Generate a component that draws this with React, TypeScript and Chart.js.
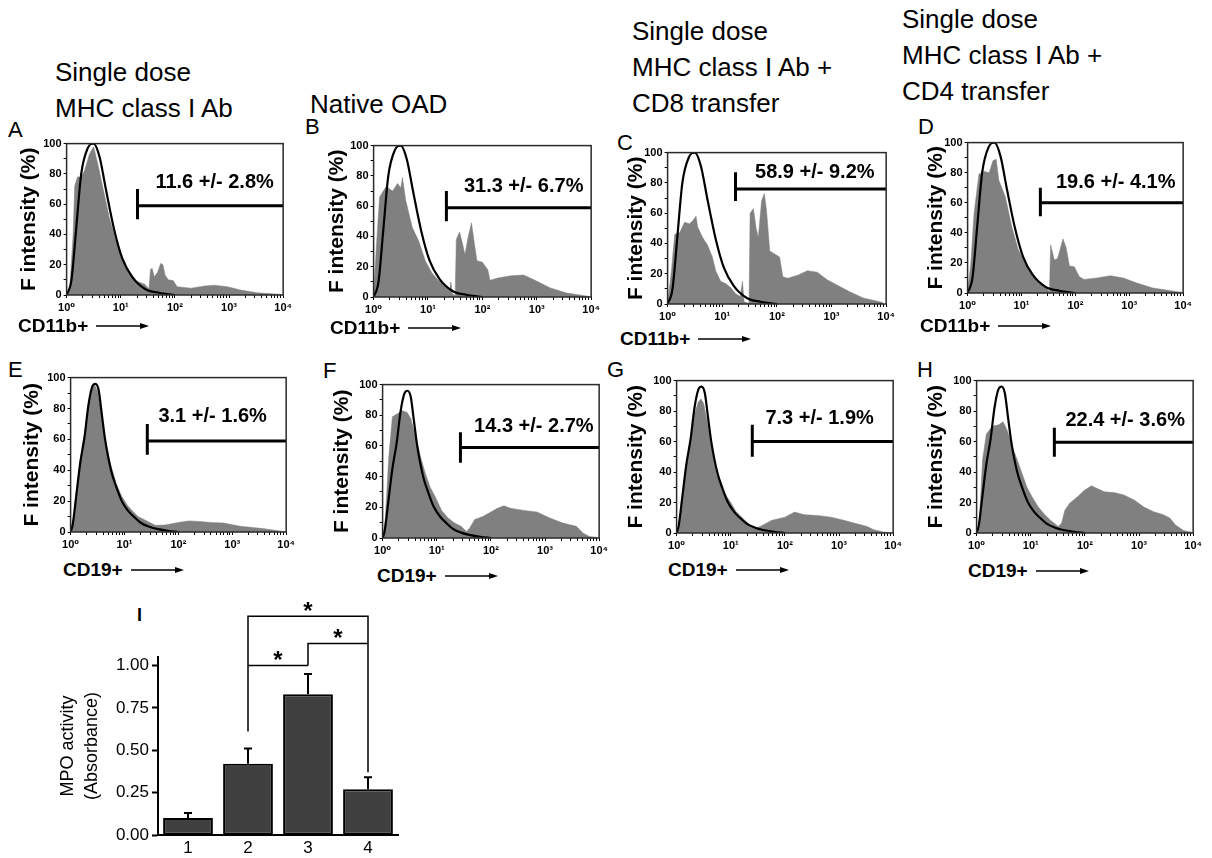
import React, { useEffect, useRef } from 'react';
import { Chart, registerables } from 'chart.js';

Chart.register(...registerables);

const FONT = '"Liberation Sans", Arial, "DejaVu Sans", sans-serif';

// ---------------- data ----------------
const panelLetters = ['A', 'B', 'C', 'D', 'E', 'F', 'G', 'H'];
const markerNames = ['CD11b+', 'CD11b+', 'CD11b+', 'CD11b+', 'CD19+', 'CD19+', 'CD19+', 'CD19+'];
const headerLines = [
  ['Single dose', 'MHC class I Ab'],
  ['Native OAD'],
  ['Single dose', 'MHC class I Ab +', 'CD8 transfer'],
  ['Single dose', 'MHC class I Ab +', 'CD4 transfer'],
];
const yAxisTitle = 'F intensity (%)';
const xDecades = [1, 10, 100, 1000, 10000];
const xDecadeLabels = ['10⁰', '10¹', '10²', '10³', '10⁴'];
const yTickValues = [0, 10, 20, 30, 40, 50, 60, 70, 80, 90, 100];
const yLabeledTicks = [0, 20, 40, 60, 80, 100];

// curves: [log10(fluorescence), % of max]
const controlTop = [[0, 0], [0.09, 10], [0.18, 45], [0.27, 80], [0.39, 97], [0.5, 100], [0.61, 91], [0.73, 69], [0.88, 43], [1.03, 24], [1.21, 12], [1.45, 4], [1.7, 1.5], [2, 0]];
const controlBottom = [[0, 0], [0.04, 5], [0.1, 22], [0.18, 45], [0.26, 62], [0.33, 82], [0.4, 94], [0.46, 96], [0.52, 92], [0.58, 76], [0.64, 60], [0.75, 40], [0.85, 29], [0.95, 20], [1.06, 14], [1.17, 10], [1.3, 6], [1.45, 3.5], [1.6, 2], [1.8, 0.8], [2, 0]];

const grayA = [[0, 0], [0.06, 5], [0.12, 40], [0.15, 72], [0.2, 78], [0.27, 78], [0.33, 82], [0.42, 93], [0.5, 98], [0.58, 86], [0.67, 71], [0.79, 51], [0.91, 36], [1.03, 25], [1.15, 16], [1.3, 9], [1.45, 7], [1.52, 4], [1.55, 17], [1.58, 17.5], [1.62, 12], [1.68, 15], [1.74, 21], [1.78, 20], [1.82, 13], [1.88, 10], [1.97, 9.5], [2.04, 5.5], [2.3, 4.5], [2.55, 6], [2.73, 6.5], [2.97, 5.5], [3.21, 3.3], [3.52, 1.5], [4, 0.3]];
const grayB = [[0, 0], [0.05, 33], [0.11, 66], [0.23, 73], [0.35, 70], [0.44, 75], [0.5, 72], [0.53, 79], [0.59, 64], [0.71, 46], [0.83, 37], [0.95, 24], [1.07, 16], [1.19, 11], [1.32, 7], [1.4, 5], [1.42, 10], [1.45, 2], [1.5, 1], [1.52, 38], [1.58, 43], [1.63, 36], [1.68, 28], [1.74, 40], [1.8, 49], [1.85, 36], [1.9, 24], [2.0, 23], [2.1, 18], [2.14, 11], [2.28, 12.5], [2.52, 14], [2.76, 14.5], [2.94, 11.5], [3.25, 6], [3.55, 2.6], [3.97, 0.4]];
const grayC = [[0, 0], [0.07, 22], [0.13, 46], [0.22, 47], [0.31, 54], [0.4, 53], [0.46, 55], [0.52, 58], [0.55, 51], [0.64, 44], [0.73, 39], [0.82, 31], [0.88, 22], [0.97, 15], [1.06, 13.5], [1.15, 11], [1.24, 7], [1.33, 5], [1.37, 15], [1.4, 1.5], [1.49, 0.5], [1.51, 60], [1.57, 63], [1.62, 50], [1.66, 44], [1.72, 68], [1.77, 73], [1.81, 62], [1.87, 35], [1.96, 33], [2.05, 31], [2.11, 18], [2.2, 17], [2.38, 19], [2.56, 22], [2.74, 21], [2.92, 16], [3.1, 12.5], [3.34, 8], [3.58, 4], [3.94, 1]];
const grayD = [[0, 0], [0.06, 20], [0.12, 53], [0.21, 79], [0.3, 81], [0.4, 80], [0.47, 88], [0.53, 89], [0.58, 75], [0.7, 64], [0.82, 44], [0.94, 29], [1.07, 20], [1.19, 13], [1.31, 8], [1.43, 4.4], [1.49, 2], [1.52, 1], [1.54, 32], [1.61, 22], [1.67, 23], [1.77, 36], [1.83, 30], [1.89, 18], [1.98, 17.5], [2.07, 11], [2.16, 9], [2.4, 10], [2.65, 11.5], [2.89, 10], [3.14, 6.6], [3.44, 3.3], [3.99, 0.4]];
const grayE = [[0, 0], [0.04, 6], [0.1, 24], [0.18, 47], [0.26, 64], [0.33, 83], [0.4, 93], [0.45, 95], [0.5, 91], [0.57, 77], [0.63, 62], [0.75, 43], [0.85, 31], [0.95, 23], [1.06, 17], [1.14, 14], [1.25, 10], [1.39, 7.6], [1.57, 4.3], [1.75, 4.5], [1.9, 5.5], [2.05, 6.5], [2.2, 7.2], [2.4, 6.8], [2.6, 6.2], [2.84, 5.8], [3.15, 3.7], [3.57, 2.2], [3.94, 0.4], [4, 0]];
const grayF = [[0, 0], [0.05, 12], [0.11, 51], [0.18, 79], [0.27, 81], [0.36, 83], [0.45, 82], [0.52, 78], [0.61, 66], [0.7, 53], [0.79, 42], [0.88, 33], [0.97, 27], [1.09, 18], [1.21, 13], [1.33, 9.7], [1.45, 7.6], [1.55, 4.3], [1.61, 6.5], [1.7, 12], [1.85, 14], [2.0, 17], [2.12, 19.4], [2.24, 21], [2.36, 19.4], [2.61, 18], [2.85, 17], [3.09, 13], [3.33, 9.7], [3.58, 7.6], [3.7, 3.2], [3.82, 1], [3.97, 0.4]];
const grayG = [[0, 0], [0.04, 5], [0.1, 22], [0.18, 45], [0.26, 62], [0.33, 78], [0.4, 86], [0.45, 88], [0.5, 85], [0.57, 72], [0.63, 58], [0.73, 40], [0.85, 28], [1.0, 20], [1.1, 14], [1.21, 10], [1.3, 7], [1.39, 4], [1.5, 3.5], [1.58, 5], [1.76, 8.3], [2.0, 10.4], [2.18, 13.7], [2.36, 12], [2.6, 11.5], [2.85, 10.4], [3.09, 8.3], [3.33, 6], [3.52, 4.3], [3.64, 2.2], [3.82, 0.7], [4, 0]];
const grayH = [[0, 0], [0.05, 6.5], [0.11, 48], [0.18, 65], [0.29, 70], [0.41, 71], [0.49, 73], [0.57, 67], [0.66, 56.5], [0.75, 48], [0.84, 39], [0.93, 30], [1.02, 24], [1.14, 17], [1.26, 12], [1.39, 7.6], [1.51, 4.3], [1.57, 6.5], [1.63, 15], [1.72, 19.6], [1.87, 24], [1.99, 28], [2.12, 31], [2.24, 29], [2.36, 27], [2.54, 26.5], [2.72, 25], [2.91, 21.7], [3.09, 17], [3.27, 14], [3.45, 12], [3.57, 9.8], [3.67, 5.4], [3.82, 1.7], [3.99, 0.4]];
const grayCurves = [grayA, grayB, grayC, grayD, grayE, grayF, grayG, grayH];

// gate markers
const gateStart = [20.4, 21.8, 17.5, 22.4, 26.5, 27.4, 25, 27.3];
const gateLevel = [59, 59, 76, 60, 59, 59, 60, 59.5];
const gateCapHigh = [70, 70, 87, 70, 70, 69, 71, 69];
const gateCapLow = [50, 50, 68, 51, 50, 49, 50, 50];
const gateLabels = ['11.6 +/- 2.8%', '31.3 +/- 6.7%', '58.9 +/- 9.2%', '19.6 +/- 4.1%', '3.1 +/- 1.6%', '14.3 +/- 2.7%', '7.3 +/- 1.9%', '22.4 +/- 3.6%'];
const gateLabelLog = [1.64, 1.66, 1.6, 1.64, 1.63, 1.69, 1.64, 1.64];
const gateLabelPct = [74, 73, 87, 73.5, 75, 73, 75, 74];

// MPO bar chart
const mpoCategories = ['1', '2', '3', '4'];
const mpoMeans = [0.1, 0.42, 0.83, 0.27];
const mpoErrors = [0.03, 0.09, 0.12, 0.07];
const mpoYTicks = [0, 0.25, 0.5, 0.75, 1.0];
const bracketFrom = [1, 1, 2];
const bracketTo = [3, 2, 3];
const bracketLevel = [1.29, 1.0, 1.13];
const bracketLeftEnd = [0.61, 1.0, 1.0];
const bracketRightEnd = [0.37, 1.0, 1.13];
const bracketMarks = ['*', '*', '*'];

// ---------------- layout ----------------
const panelBoxes = [
  { left: 67, top: 143, w: 220, h: 152, titleOff: 37 },
  { left: 374, top: 145, w: 221, h: 152, titleOff: 36 },
  { left: 668, top: 152, w: 222, h: 152, titleOff: 31 },
  { left: 968, top: 142, w: 219, h: 151, titleOff: 31 },
  { left: 71, top: 377, w: 219, h: 155, titleOff: 38 },
  { left: 383, top: 384, w: 220, h: 154, titleOff: 40 },
  { left: 677, top: 380, w: 220, h: 153, titleOff: 40 },
  { left: 977, top: 380, w: 220, h: 153, titleOff: 40 },
];
const letterPos = [
  { left: 8, top: 119 }, { left: 305, top: 116 }, { left: 617, top: 132 }, { left: 918, top: 116 },
  { left: 8, top: 359 }, { left: 323, top: 360 }, { left: 607, top: 359 }, { left: 917, top: 359 },
];
const xTitlePos = [
  { left: 18, top: 316 }, { left: 330, top: 318 }, { left: 620, top: 329 }, { left: 920, top: 316 },
  { left: 63, top: 560 }, { left: 377, top: 566 }, { left: 668, top: 560 }, { left: 968, top: 561 },
];
const headerPos = [{ left: 55, top: 54 }, { left: 310, top: 86 }, { left: 632, top: 13 }, { left: 902, top: 1 }];

const PADT = 8;
const PADR = 8;
const XH = 22;
const TITLE_FONT = 21;

function Histogram({ idx }: { idx: number }) {
  const ref = useRef<HTMLCanvasElement | null>(null);
  const box = panelBoxes[idx];
  const yW = box.titleOff + (TITLE_FONT * 1.2) / 2;
  const cw = Math.round(yW + box.w + PADR);
  const ch = PADT + box.h + XH;

  useEffect(() => {
    if (!ref.current) return;
    const toPts = (arr: number[][]) => arr.map(([lg, v]) => ({ x: Math.pow(10, lg), y: v }));
    const ctrl = idx < 4 ? controlTop : controlBottom;
    const gs = gateStart[idx];
    const xAll: number[] = [];
    for (let d = 0; d < xDecades.length - 1; d++) for (let m = 1; m <= 9; m++) xAll.push(xDecades[d] * m);
    xAll.push(xDecades[xDecades.length - 1]);

    const decorPlugin = {
      id: 'decor' + idx,
      afterDraw(chart: any) {
        const { ctx, chartArea } = chart;
        ctx.save();
        ctx.strokeStyle = '#2a2a2a';
        ctx.lineWidth = 1.5;
        ctx.strokeRect(chartArea.left, chartArea.top, chartArea.right - chartArea.left, chartArea.bottom - chartArea.top);
        const xs = chart.scales.x;
        const ys = chart.scales.y;
        ctx.fillStyle = '#000';
        ctx.font = `bold 20px ${FONT}`;
        ctx.textAlign = 'left';
        ctx.textBaseline = 'middle';
        ctx.fillText(gateLabels[idx], xs.getPixelForValue(Math.pow(10, gateLabelLog[idx])), ys.getPixelForValue(gateLabelPct[idx]));
        ctx.restore();
      },
    };

    const chart = new Chart(ref.current, {
      type: 'line',
      data: {
        datasets: [
          {
            data: toPts(ctrl),
            borderColor: '#000',
            borderWidth: 2.2,
            pointRadius: 0,
            cubicInterpolationMode: 'monotone',
            fill: false,
            order: 0,
          },
          {
            data: [
              { x: gs, y: gateCapHigh[idx] },
              { x: gs, y: gateCapLow[idx] },
              { x: gs, y: gateLevel[idx] },
              { x: xDecades[xDecades.length - 1], y: gateLevel[idx] },
            ],
            borderColor: '#000',
            borderWidth: 3,
            pointRadius: 0,
            tension: 0,
            fill: false,
            order: 1,
          },
          {
            data: toPts(grayCurves[idx]),
            borderColor: '#808080',
            borderWidth: 0.5,
            backgroundColor: '#808080',
            fill: 'origin',
            pointRadius: 0,
            tension: 0,
            order: 2,
          },
        ],
      } as any,
      options: {
        responsive: false,
        animation: false,
        events: [],
        layout: { padding: { top: PADT, right: PADR, left: 0, bottom: 0 } },
        plugins: { legend: { display: false }, tooltip: { enabled: false } },
        scales: {
          x: {
            type: 'logarithmic',
            min: 1,
            max: 10000,
            afterFit: (s: any) => { s.height = XH; },
            afterBuildTicks: (s: any) => { s.ticks = xAll.map((v) => ({ value: v })); },
            border: { display: false },
            grid: { display: true, drawOnChartArea: false, drawTicks: true, tickLength: 3, tickColor: '#000', tickWidth: 1 },
            ticks: {
              autoSkip: false,
              maxRotation: 0,
              minRotation: 0,
              padding: 3,
              color: '#000',
              font: { family: FONT, size: 11, weight: 'bold' },
              callback: (v: any) => {
                const k = xDecades.indexOf(Number(v));
                return k >= 0 ? xDecadeLabels[k] : '';
              },
            },
          },
          y: {
            min: 0,
            max: 100,
            afterFit: (s: any) => { s.width = yW; },
            afterBuildTicks: (s: any) => { s.ticks = yTickValues.map((v) => ({ value: v })); },
            border: { display: false },
            grid: { display: true, drawOnChartArea: false, drawTicks: true, tickLength: 3, tickColor: '#000', tickWidth: 1 },
            ticks: {
              autoSkip: false,
              padding: 2,
              color: '#000',
              font: { family: FONT, size: 11, weight: 'bold' },
              callback: (v: any) => (yLabeledTicks.includes(Number(v)) ? String(v) : ''),
            },
            title: {
              display: true,
              text: yAxisTitle,
              color: '#000',
              padding: { top: 0, bottom: 0 },
              font: { family: FONT, size: TITLE_FONT, weight: 'bold' },
            },
          },
        },
      } as any,
      plugins: [decorPlugin],
    });
    return () => chart.destroy();
  }, [idx]);

  return (
    <canvas
      ref={ref}
      width={cw}
      height={ch}
      style={{ position: 'absolute', left: Math.round(box.left - yW), top: box.top - PADT, width: cw, height: ch }}
    />
  );
}

function MpoChart() {
  const ref = useRef<HTMLCanvasElement | null>(null);
  const CL = 52, CT = 600, CW = 368, CH = 258;
  useEffect(() => {
    if (!ref.current) return;
    const annot = {
      id: 'mpoAnnot',
      afterDatasetsDraw(chart: any) {
        const { ctx } = chart;
        const meta = chart.getDatasetMeta(0);
        const y = chart.scales.y;
        ctx.save();
        ctx.strokeStyle = '#000';
        ctx.lineWidth = 2;
        meta.data.forEach((bar: any, i: number) => {
          const top = y.getPixelForValue(mpoMeans[i]);
          const tip = y.getPixelForValue(mpoMeans[i] + mpoErrors[i]);
          ctx.beginPath();
          ctx.moveTo(bar.x, top);
          ctx.lineTo(bar.x, tip);
          ctx.moveTo(bar.x - 4, tip);
          ctx.lineTo(bar.x + 4, tip);
          ctx.stroke();
        });
        ctx.lineWidth = 1.5;
        ctx.fillStyle = '#000';
        ctx.font = `bold 24px ${FONT}`;
        ctx.textAlign = 'center';
        ctx.textBaseline = 'alphabetic';
        bracketFrom.forEach((f, k) => {
          const x1 = meta.data[f].x;
          const x2 = meta.data[bracketTo[k]].x;
          const yy = y.getPixelForValue(bracketLevel[k]);
          ctx.beginPath();
          ctx.moveTo(x1, y.getPixelForValue(bracketLeftEnd[k]));
          ctx.lineTo(x1, yy);
          ctx.lineTo(x2, yy);
          ctx.lineTo(x2, y.getPixelForValue(bracketRightEnd[k]));
          ctx.stroke();
          ctx.fillText(bracketMarks[k], (x1 + x2) / 2, yy + 3);
        });
        ctx.restore();
      },
    };
    const chart = new Chart(ref.current, {
      type: 'bar',
      data: {
        labels: mpoCategories,
        datasets: [
          {
            data: mpoMeans,
            backgroundColor: '#404040',
            borderColor: '#000',
            borderWidth: 2,
            borderSkipped: false,
            barPercentage: 0.83,
            categoryPercentage: 1.0,
          },
        ],
      },
      options: {
        responsive: false,
        animation: false,
        events: [],
        layout: { padding: { top: 57, right: 22, left: 0, bottom: 0 } },
        plugins: { legend: { display: false }, tooltip: { enabled: false } },
        scales: {
          x: {
            afterFit: (s: any) => { s.height = 23; },
            border: { display: true, color: '#000', width: 2 },
            grid: { display: false, drawTicks: false },
            ticks: { padding: 3, color: '#000', font: { family: FONT, size: 17 } },
          },
          y: {
            min: 0,
            max: 1.05,
            afterFit: (s: any) => { s.width = 106; },
            afterBuildTicks: (s: any) => { s.ticks = mpoYTicks.map((v) => ({ value: v })); },
            border: { display: true, color: '#000', width: 2 },
            grid: { display: true, drawOnChartArea: false, drawTicks: true, tickLength: 6, tickColor: '#000', tickWidth: 2 },
            ticks: {
              padding: 3,
              color: '#000',
              font: { family: FONT, size: 17 },
              callback: (v: any) => Number(v).toFixed(2),
            },
            title: {
              display: true,
              text: ['MPO activity', '(Absorbance)'],
              color: '#000',
              padding: { top: 4, bottom: 0 },
              font: { family: FONT, size: 18, lineHeight: 1.35 },
            },
          },
        },
      } as any,
      plugins: [annot],
    });
    return () => chart.destroy();
  }, []);
  return <canvas ref={ref} width={CW} height={CH} style={{ position: 'absolute', left: CL, top: CT, width: CW, height: CH }} />;
}

function Arrow() {
  return (
    <svg width={54} height={10} style={{ marginLeft: 8, verticalAlign: 'middle' }}>
      <line x1={0} y1={5} x2={46} y2={5} stroke="#000" strokeWidth={1.5} />
      <polygon points="44,2 53,5 44,8" fill="#000" />
    </svg>
  );
}

export default function App() {
  return (
    <div style={{ position: 'absolute', left: 0, top: 0, width: 1212, height: 858, background: '#fff', overflow: 'hidden', fontFamily: FONT, color: '#000' }}>
      {headerLines.map((lines, i) => (
        <div key={'h' + i} style={{ position: 'absolute', left: headerPos[i].left, top: headerPos[i].top, fontSize: 26, lineHeight: '36px', whiteSpace: 'nowrap' }}>
          {lines.map((l, j) => (<div key={j}>{l}</div>))}
        </div>
      ))}
      {panelLetters.map((l, i) => (
        <div key={'l' + i} style={{ position: 'absolute', left: letterPos[i].left, top: letterPos[i].top, fontSize: 22, lineHeight: '22px' }}>{l}</div>
      ))}
      {panelBoxes.map((_, i) => (<Histogram key={'p' + i} idx={i} />))}
      {markerNames.map((m, i) => (
        <div key={'x' + i} style={{ position: 'absolute', left: xTitlePos[i].left, top: xTitlePos[i].top, fontSize: 19, fontWeight: 'bold', lineHeight: '19px', whiteSpace: 'nowrap', display: 'flex', alignItems: 'center' }}>
          <span>{m}</span>
          <Arrow />
        </div>
      ))}
      <div style={{ position: 'absolute', left: 137, top: 606, fontSize: 18, fontWeight: 'bold', lineHeight: '18px' }}>I</div>
      <MpoChart />
    </div>
  );
}
